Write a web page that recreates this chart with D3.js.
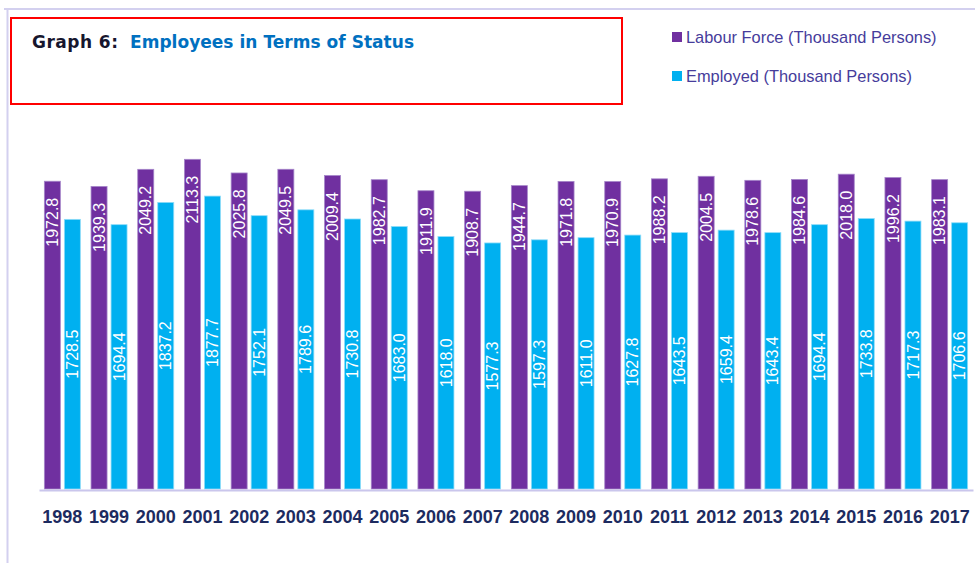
<!DOCTYPE html>
<html>
<head>
<meta charset="utf-8">
<script src="https://cdn.jsdelivr.net/npm/d3@7"></script>
<style>
  body { margin: 0; background: #fff; }
</style>
</head>
<body>
<div id="graph-container"></div>
<script>
const years = ['1998','1999','2000','2001','2002','2003','2004','2005','2006','2007','2008','2009','2010','2011','2012','2013','2014','2015','2016','2017'];
const labourForce = [1972.8,1939.3,2049.2,2113.3,2025.8,2049.5,2009.4,1982.7,1911.9,1908.7,1944.7,1971.8,1970.9,1988.2,2004.5,1978.6,1984.6,2018.0,1996.2,1983.1];
const employed = [1728.5,1694.4,1837.2,1877.7,1752.1,1789.6,1730.8,1683.0,1618.0,1577.3,1597.3,1611.0,1627.8,1643.5,1659.4,1643.4,1694.4,1733.8,1717.3,1706.6];
const seriesNames = ['Labour Force (Thousand Persons)','Employed (Thousand Persons)'];

const main = () => {
  const width = 975;
  const height = 563;
  const color = ['#7030a0','#00b0f0'];
  const edge = ['#a585c9','#8fdcf8'];
  const baseY = 489;

  const svg = d3.select('#graph-container').append('svg')
    .attr('width', width)
    .attr('height', height)
    .attr('style', 'background:white;display:block');

  // outer frame (only top and left edges visible)
  svg.append('path')
    .attr('d', `M4 9 L${width} 9 M7.5 9 L7.5 ${height}`)
    .attr('stroke', '#d3d0ef')
    .attr('stroke-width', 2)
    .attr('fill', 'none');

  // title box
  svg.append('rect')
    .attr('x', 11).attr('y', 18)
    .attr('width', 611).attr('height', 86)
    .attr('fill', 'none')
    .attr('stroke', '#ff0000')
    .attr('stroke-width', 2);

  const title = svg.append('text')
    .attr('x', 32).attr('y', 48)
    .attr('font-family', 'DejaVu Sans')
    .attr('font-weight', 'bold')
    .attr('font-size', 17);
  title.append('tspan').attr('fill', '#16162e').attr('textLength', 86).text('Graph 6:');
  title.append('tspan').attr('x', 130).attr('fill', '#0070c0').attr('textLength', 284).text('Employees in Terms of Status');

  // legend
  const legend = svg.selectAll('g.legend-item')
    .data(seriesNames)
    .join('g')
    .attr('class', 'legend-item')
    .attr('transform', (d, i) => `translate(672,${32 + i * 39})`);
  legend.append('rect')
    .attr('width', 10).attr('height', 10)
    .attr('fill', (d, i) => color[i]);
  legend.append('text')
    .attr('x', 14).attr('y', 10.5)
    .attr('font-family', 'Liberation Sans')
    .attr('font-size', 16.4)
    .attr('fill', '#463c9b')
    .text(d => d);

  const xScale = d3.scaleBand().domain(years).range([39, 973]);
  const xInner = d3.scaleBand().domain([0, 1]).range([0, xScale.bandwidth()])
    .paddingInner(0.2).paddingOuter(0.2675);
  const yScale = d3.scaleLinear().domain([0, 2500]).range([baseY, 99]);

  const rows = years.map((y, i) => ({ year: y, values: [labourForce[i], employed[i]] }));

  const groups = svg.selectAll('g.year')
    .data(rows)
    .join('g')
    .attr('class', 'year')
    .attr('transform', d => `translate(${xScale(d.year)},0)`);

  const bars = groups.selectAll('g.bar')
    .data(d => d.values.map((v, k) => ({ k, v })))
    .join('g')
    .attr('class', 'bar');

  bars.append('rect')
    .attr('x', d => xInner(d.k))
    .attr('y', d => yScale(d.v))
    .attr('width', xInner.bandwidth())
    .attr('height', d => baseY - yScale(d.v))
    .attr('fill', d => color[d.k])
    .attr('stroke', d => edge[d.k])
    .attr('stroke-width', 0.8);

  bars.append('text')
    .attr('transform', d => {
      const cx = xInner(d.k) + xInner.bandwidth() / 2;
      const cy = d.k === 0 ? yScale(d.v) + 16.5 : (yScale(d.v) + baseY) / 2;
      return `translate(${cx},${cy}) rotate(-90)`;
    })
    .attr('text-anchor', d => d.k === 0 ? 'end' : 'middle')
    .attr('dy', '0.35em')
    .attr('font-family', 'Liberation Sans')
    .attr('font-size', 16)
    .attr('fill', '#ffffff')
    .text(d => d.v.toFixed(1));

  // x axis
  const axis = svg.append('g')
    .attr('transform', `translate(0,${baseY + 1})`)
    .call(d3.axisBottom(xScale).tickSize(0).tickPadding(20));
  axis.select('.domain')
    .attr('stroke', '#cac6ec')
    .attr('stroke-width', 2);
  axis.selectAll('text')
    .attr('font-family', 'Liberation Sans')
    .attr('font-weight', 'bold')
    .attr('font-size', 18)
    .attr('fill', '#1d2b60');
};

main();
</script>
</body>
</html>
